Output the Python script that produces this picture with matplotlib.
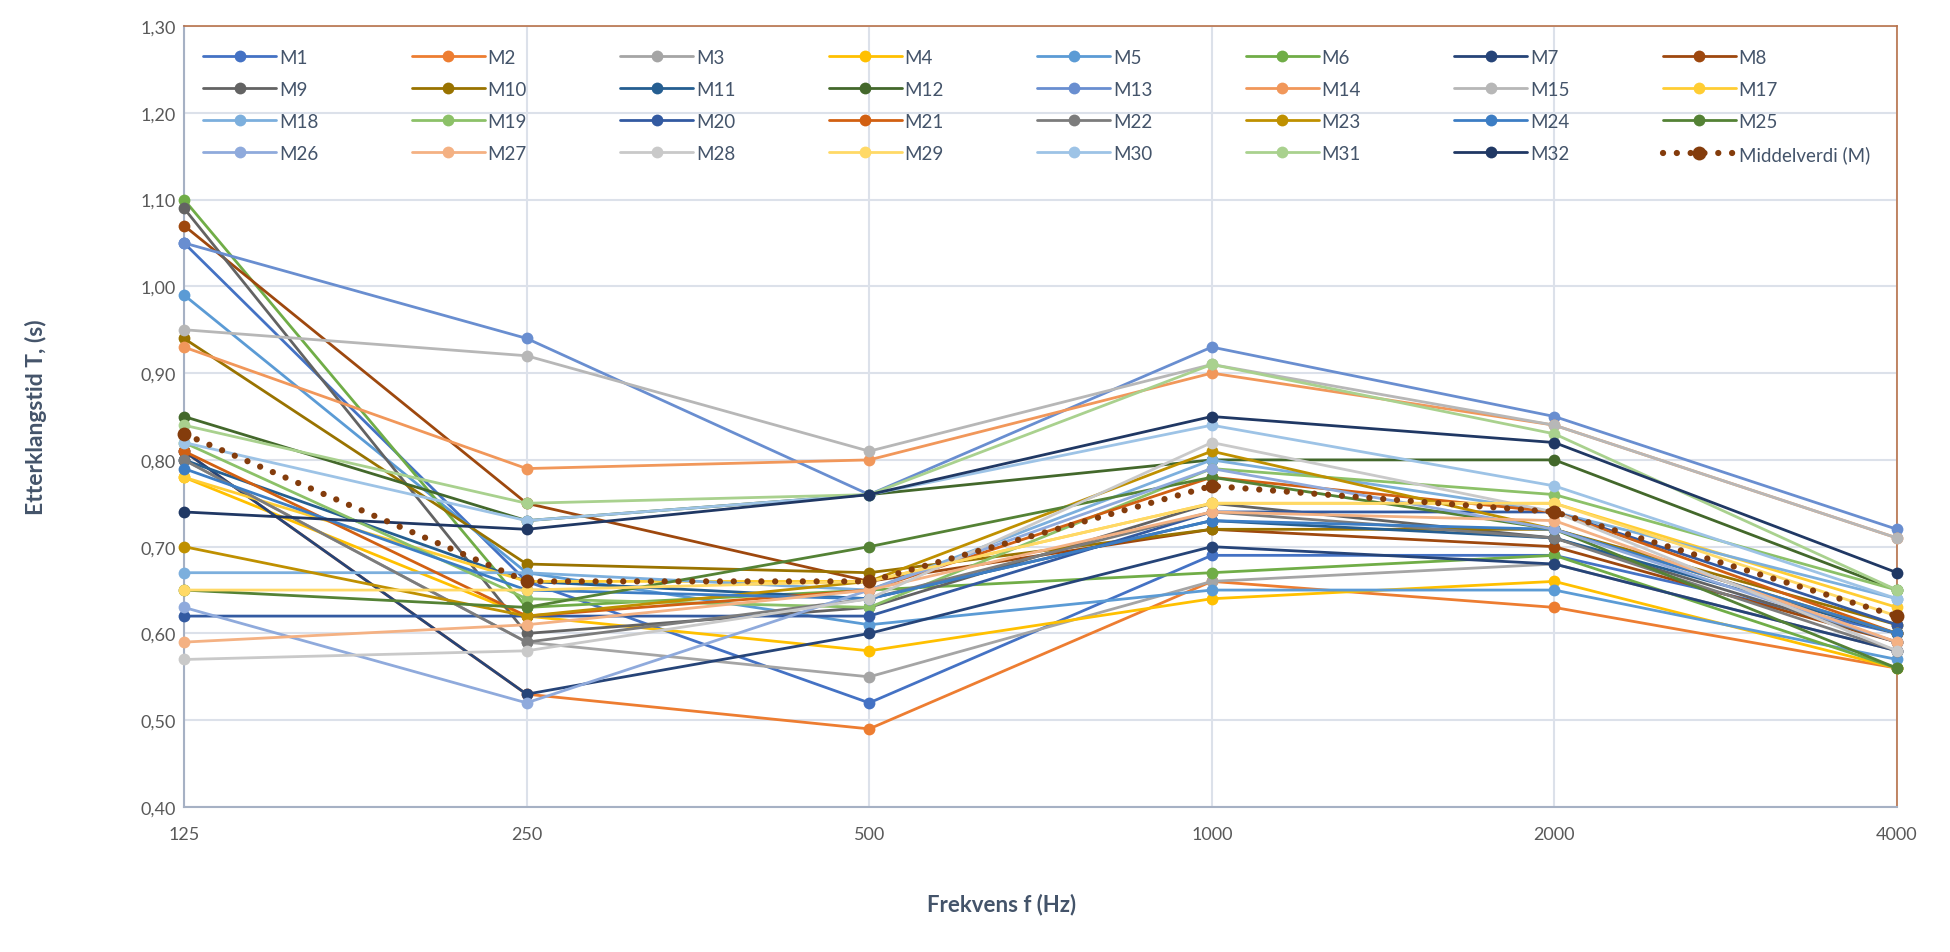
import matplotlib
matplotlib.use("Agg")
import matplotlib.pyplot as plt
from matplotlib.ticker import FixedLocator, FuncFormatter

plt.rcParams['font.family'] = ['Lato', 'DejaVu Sans']

# Octave-band centre frequencies (Hz)
frequencies = ['125', '250', '500', '1000', '2000', '4000']

# Reverberation time T (s) per measurement position
m1 = [1.05, 0.66, 0.52, 0.69, 0.69, 0.60]
m2 = [0.81, 0.53, 0.49, 0.66, 0.63, 0.56]
m3 = [0.80, 0.59, 0.55, 0.66, 0.68, 0.58]
m4 = [0.78, 0.62, 0.58, 0.64, 0.66, 0.56]
m5 = [0.99, 0.67, 0.61, 0.65, 0.65, 0.57]
m6 = [1.10, 0.63, 0.65, 0.67, 0.69, 0.56]
m7 = [0.81, 0.53, 0.60, 0.70, 0.68, 0.58]
m8 = [1.07, 0.75, 0.66, 0.72, 0.70, 0.59]
m9 = [1.09, 0.60, 0.63, 0.75, 0.71, 0.59]
m10 = [0.94, 0.68, 0.67, 0.72, 0.72, 0.61]
m11 = [0.80, 0.66, 0.64, 0.73, 0.71, 0.60]
m12 = [0.85, 0.73, 0.76, 0.80, 0.80, 0.65]
m13 = [1.05, 0.94, 0.76, 0.93, 0.85, 0.72]
m14 = [0.93, 0.79, 0.80, 0.90, 0.84, 0.71]
m15 = [0.95, 0.92, 0.81, 0.91, 0.84, 0.71]
m17 = [0.78, 0.66, 0.66, 0.75, 0.75, 0.63]
m18 = [0.67, 0.67, 0.65, 0.80, 0.74, 0.64]
m19 = [0.82, 0.64, 0.63, 0.79, 0.76, 0.65]
m20 = [0.62, 0.62, 0.62, 0.74, 0.74, 0.61]
m21 = [0.81, 0.62, 0.65, 0.78, 0.74, 0.60]
m22 = [0.80, 0.59, 0.64, 0.74, 0.71, 0.58]
m23 = [0.70, 0.62, 0.66, 0.81, 0.72, 0.60]
m24 = [0.79, 0.65, 0.64, 0.73, 0.72, 0.60]
m25 = [0.65, 0.63, 0.70, 0.78, 0.72, 0.56]
m26 = [0.63, 0.52, 0.65, 0.79, 0.72, 0.59]
m27 = [0.59, 0.61, 0.65, 0.74, 0.73, 0.59]
m28 = [0.57, 0.58, 0.64, 0.82, 0.74, 0.58]
m29 = [0.65, 0.65, 0.66, 0.75, 0.75, 0.62]
m30 = [0.82, 0.73, 0.76, 0.84, 0.77, 0.64]
m31 = [0.84, 0.75, 0.76, 0.91, 0.83, 0.65]
m32 = [0.74, 0.72, 0.76, 0.85, 0.82, 0.67]
mean_values = [0.83, 0.66, 0.66, 0.77, 0.74, 0.62]

series_labels = ['M1', 'M2', 'M3', 'M4', 'M5', 'M6', 'M7', 'M8',
                 'M9', 'M10', 'M11', 'M12', 'M13', 'M14', 'M15', 'M17',
                 'M18', 'M19', 'M20', 'M21', 'M22', 'M23', 'M24', 'M25',
                 'M26', 'M27', 'M28', 'M29', 'M30', 'M31', 'M32']
series_values = [m1, m2, m3, m4, m5, m6, m7, m8,
                 m9, m10, m11, m12, m13, m14, m15, m17,
                 m18, m19, m20, m21, m22, m23, m24, m25,
                 m26, m27, m28, m29, m30, m31, m32]
series_colors = ['#4472C4', '#ED7D31', '#A5A5A5', '#FFC000', '#5B9BD5', '#70AD47',
                 '#264478', '#9E480E', '#636363', '#997300', '#255E91', '#43682B',
                 '#698ED0', '#F1975A', '#B7B7B7', '#FFCD33', '#7CAFDD', '#8CC168',
                 '#335AA1', '#D26012', '#7C7C7C', '#BF9000', '#3C7DC4', '#548235',
                 '#8FAADC', '#F4B183', '#C9C9C9', '#FFD966', '#9DC3E6', '#A9D18E',
                 '#203864']
mean_label = 'Middelverdi (M)'
mean_color = '#843C0C'

W, H = 1950, 953
fig = plt.figure(figsize=(W / 100, H / 100), dpi=100)
left, right, bottom, top = 184 / W, 1897 / W, 1 - 808 / H, 1 - 27 / H
ax = fig.add_axes([left, bottom, right - left, top - bottom])

x = list(range(len(frequencies)))
handles = []
for i, (lab, vals, col) in enumerate(zip(series_labels, series_values, series_colors)):
    h, = ax.plot(x, vals, color=col, lw=2.0, marker='o', markersize=8.5,
                 markeredgewidth=0, label=lab, zorder=3 + i * 0.01,
                 solid_capstyle='round', clip_on=False)
    handles.append(h)

hm, = ax.plot(x, mean_values, color=mean_color, lw=4.5, linestyle=(0, (0.01, 2.2)),
              dash_capstyle='round', marker='o', markersize=10, markeredgewidth=0,
              label=mean_label, zorder=4, clip_on=False)
handles.append(hm)

ax.set_xlim(0, len(frequencies) - 1)
ax.set_ylim(0.40, 1.30)
ax.xaxis.set_major_locator(FixedLocator(x))
ax.set_xticklabels(frequencies)
ax.yaxis.set_major_locator(FixedLocator([0.40 + 0.10 * k for k in range(10)]))
ax.yaxis.set_major_formatter(FuncFormatter(lambda v, p: f"{v:.2f}".replace('.', ',')))

grid_color = '#DCE1EA'
ax.grid(True, color=grid_color, lw=1.5, zorder=0)
ax.set_axisbelow(True)
ax.tick_params(axis='both', length=0, labelsize=13, labelcolor='#595959')
ax.tick_params(axis='x', pad=14)
ax.tick_params(axis='y', pad=6)

for side in ('top', 'right'):
    ax.spines[side].set_color('#B8724A')
    ax.spines[side].set_linewidth(1.2)
for side in ('left', 'bottom'):
    ax.spines[side].set_color('#A6B1C4')
    ax.spines[side].set_linewidth(1.5)

ax.set_ylabel('Etterklangstid T, (s)', fontsize=16.5, fontweight='bold',
              color='#44546A', labelpad=0)
ax.yaxis.set_label_coords(-(184 - 47) / (1897 - 184), 0.5)
fig.text(1002 / W, 1 - 905 / H, 'Frekvens f (Hz)', fontsize=16, fontweight='bold',
         color='#44546A', ha='center', va='center')

# legend laid out row by row, eight entries per row
ncol, nrow = 8, 4
order = [r * ncol + c for c in range(ncol) for r in range(nrow)]
leg_handles = [handles[k] for k in order]
leg_labels = [h.get_label() for h in leg_handles]
leg = ax.legend(leg_handles, leg_labels, ncol=ncol, loc='upper left',
                bbox_to_anchor=((203 - 184) / (1897 - 184), 1 - (50 - 27) / (808 - 27)),
                borderaxespad=0, borderpad=0, frameon=False, fontsize=13.5,
                handlelength=3.9, handletextpad=0.15, columnspacing=4.97,
                labelspacing=0.8, labelcolor='#44546A')
leg.set_zorder(10)

fig.savefig('out.png', dpi=100, facecolor='white')
